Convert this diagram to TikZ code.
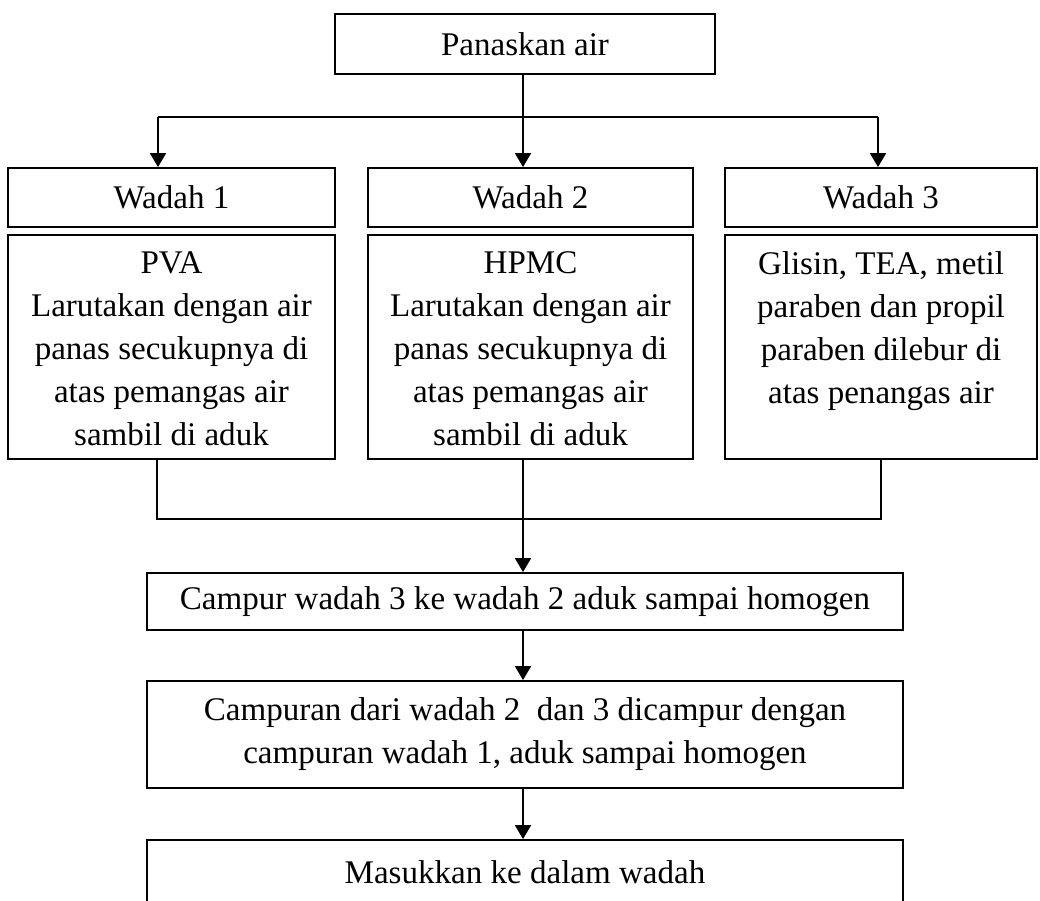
\documentclass[tikz,border=0pt]{standalone}
\usepackage{fontspec}
\setmainfont{Liberation Serif}
\usetikzlibrary{arrows.meta}
\newcommand{\topblock}[1]{\parbox[c][4.75cm][t]{7.7cm}{\centering #1}}
\begin{document}
\begin{tikzpicture}[x=0.025cm,y=-0.025cm,
  box/.style={draw, line width=1.3pt, inner sep=0pt, align=center,
    font=\fontsize{23.5}{30.5}\selectfont},
  conn/.style={line width=1.3pt},
  arr/.style={conn, -{Triangle[length=0.35cm,width=0.4cm]}}]
\useasboundingbox (0,0) rectangle (1040,901);
\clip (0,0) rectangle (1040,901);
% boxes
\node[box, minimum width=9.5cm, minimum height=1.5cm] (top) at (525,44) {Panaskan air};
\node[box, minimum width=8.175cm, minimum height=1.475cm] (w1) at (171.5,197.5) {Wadah 1};
\node[box, minimum width=8.125cm, minimum height=1.475cm] (w2) at (530.5,197.5) {Wadah 2};
\node[box, minimum width=7.8cm, minimum height=1.475cm] (w3) at (881,197.5) {Wadah 3};
\node[box, minimum width=8.175cm, minimum height=5.6cm] (c1) at (171.5,347)
  {\topblock{PVA\\Larutakan dengan air\\panas secukupnya di\\atas pemangas air\\sambil di aduk}};
\node[box, minimum width=8.125cm, minimum height=5.6cm] (c2) at (530.5,347)
  {\topblock{HPMC\\Larutakan dengan air\\panas secukupnya di\\atas pemangas air\\sambil di aduk}};
\node[box, minimum width=7.8cm, minimum height=5.6cm] (c3) at (881,347)
  {\topblock{Glisin, TEA, metil\\paraben dan propil\\paraben dilebur di\\atas penangas air}};
\node[box, minimum width=18.9cm, minimum height=1.425cm] (m1) at (525,601.5)
  {Campur wadah 3 ke wadah 2 aduk sampai homogen};
\node[box, minimum width=18.9cm, minimum height=2.675cm] (m2) at (525,734.5)
  {Campuran dari wadah 2\ \ dan 3 dicampur dengan\\campuran wadah 1, aduk sampai homogen};
\node[box, minimum width=18.9cm, minimum height=1.6cm] (m3) at (525,872)
  {Masukkan ke dalam wadah};
% split connectors
\coordinate (sp) at (523,117);
\coordinate (sl) at (158,117);
\coordinate (sr) at (878,117);
\draw[conn] (top.south -| sp) -- (sp);
\draw[conn] (sl) -- (sr);
\draw[arr] (sl) -- (sl |- w1.north);
\draw[arr] (sp) -- (sp |- w2.north);
\draw[arr] (sr) -- (sr |- w3.north);
% merge connectors
\coordinate (ml) at (157,519);
\coordinate (mr) at (881,519);
\draw[conn] (ml |- c1.south) -- (ml) -- (mr) -- (mr |- c3.south);
\draw[arr] (sp |- c2.south) -- (sp |- m1.north);
\draw[arr] (sp |- m1.south) -- (sp |- m2.north);
\draw[arr] (sp |- m2.south) -- (sp |- m3.north);
\end{tikzpicture}
\end{document}
